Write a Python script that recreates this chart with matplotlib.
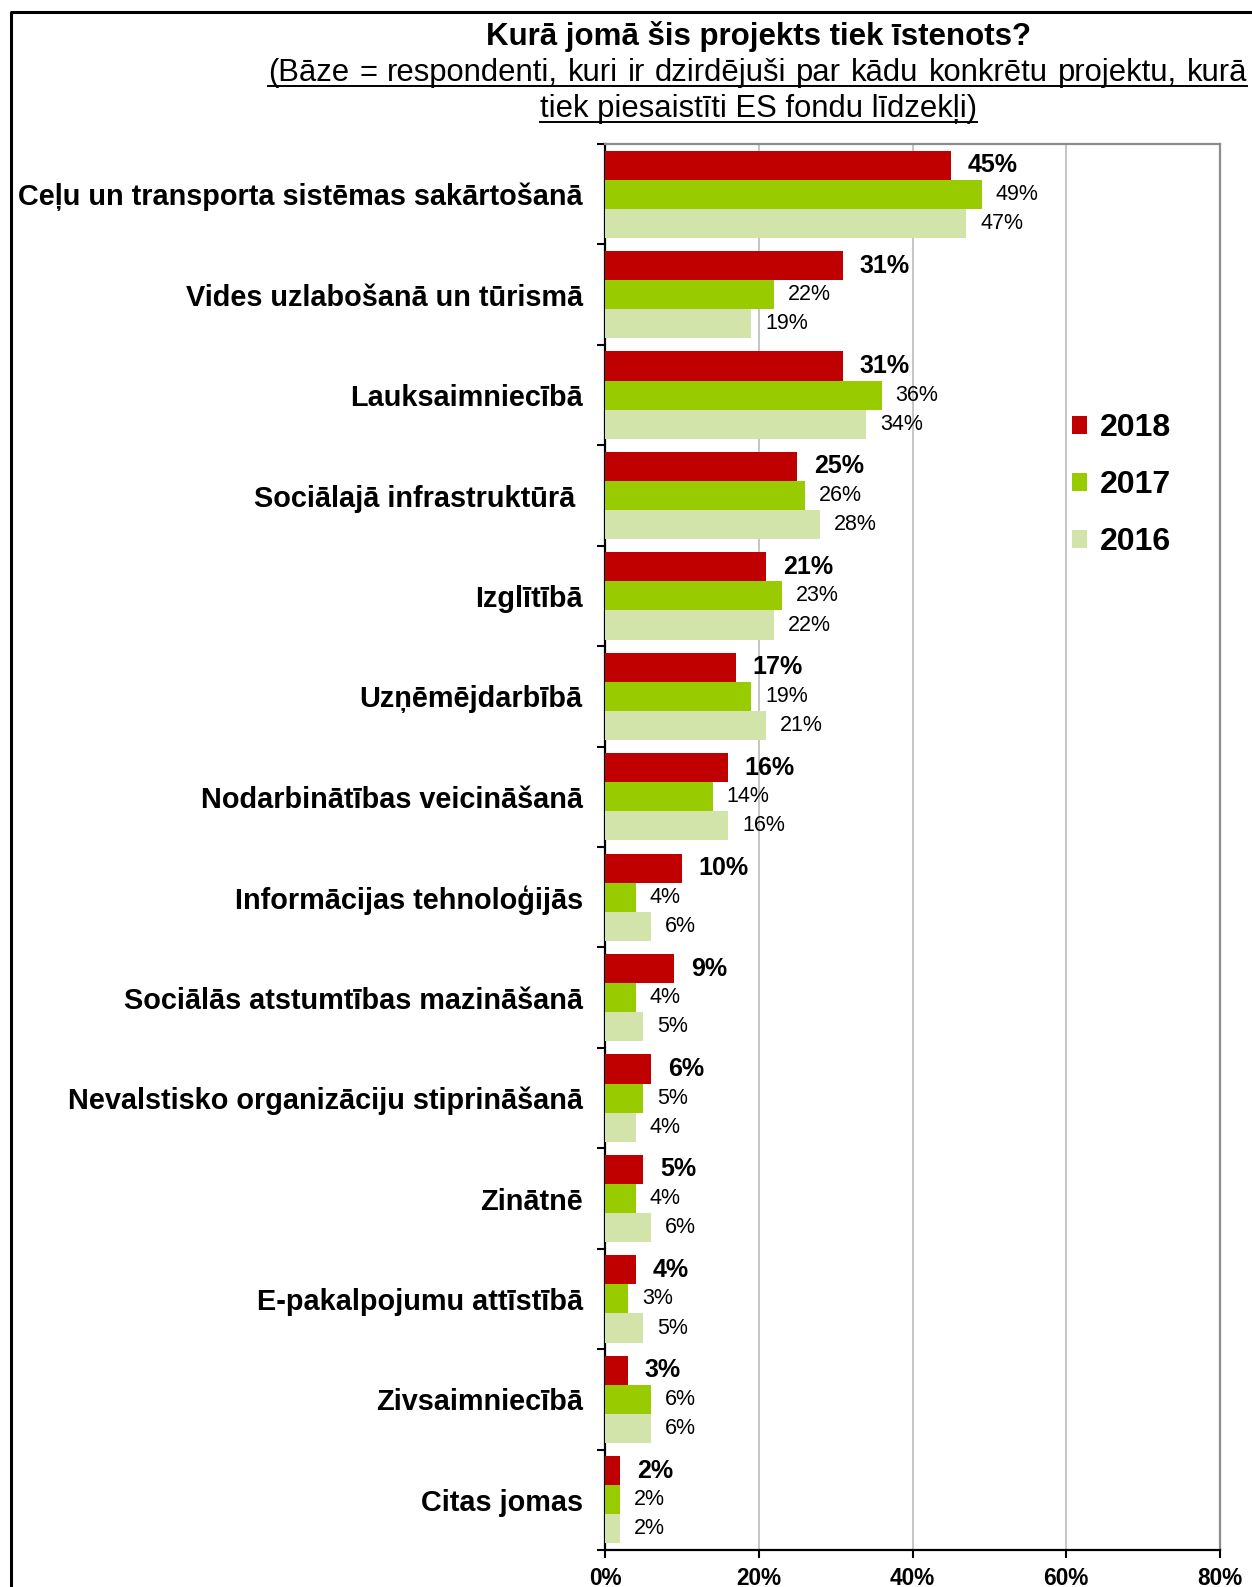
import numpy as np
import matplotlib
matplotlib.use("Agg")
import matplotlib.pyplot as plt
from matplotlib.lines import Line2D
from matplotlib.patches import Patch

plt.rcParams['font.family'] = ['Liberation Sans', 'DejaVu Sans']

title = "Kurā jomā šis projekts tiek īstenots?"
subtitle_lines = [
    "(Bāze = respondenti, kuri ir dzirdējuši par kādu konkrētu projektu, kurā",
    "tiek piesaistīti ES fondu līdzekļi)",
]

categories = [
    "Ceļu un transporta sistēmas sakārtošanā",
    "Vides uzlabošanā un tūrismā",
    "Lauksaimniecībā",
    "Sociālajā infrastruktūrā ",
    "Izglītībā",
    "Uzņēmējdarbībā",
    "Nodarbinātības veicināšanā",
    "Informācijas tehnoloģijās",
    "Sociālās atstumtības mazināšanā",
    "Nevalstisko organizāciju stiprināšanā",
    "Zinātnē",
    "E-pakalpojumu attīstībā",
    "Zivsaimniecībā",
    "Citas jomas",
]
years = ["2018", "2017", "2016"]
values_2018 = [45, 31, 31, 25, 21, 17, 16, 10, 9, 6, 5, 4, 3, 2]
values_2017 = [49, 22, 36, 26, 23, 19, 14, 4, 4, 5, 4, 3, 6, 2]
values_2016 = [47, 19, 34, 28, 22, 21, 16, 6, 5, 4, 6, 5, 6, 2]
x_ticks = [0, 20, 40, 60, 80]
x_tick_labels = ["0%", "20%", "40%", "60%", "80%"]

colors = ["#C00000", "#99CC00", "#D3E4AA"]
series = [values_2018, values_2017, values_2016]

W, H = 1252, 1587
fig = plt.figure(figsize=(W / 100, H / 100), dpi=100)
ax = fig.add_axes([605 / W, 1 - 1550 / H, (1220 - 605) / W, (1550 - 144) / H])

y = np.arange(len(categories))
bh = 0.29
offsets = [-bh, 0, bh]
for vals, col, off, yr in zip(series, colors, offsets, years):
    ax.barh(y + off, vals, height=bh, color=col, edgecolor='none', label=yr, zorder=3)

# value labels: bold for the latest year
for i in range(len(categories)):
    for k, (vals, off) in enumerate(zip(series, offsets)):
        v = vals[i]
        if k == 0:
            ax.annotate(f"{v}%", (v, y[i] + off), xytext=(12, 0), textcoords='offset points',
                        ha='left', va='center', fontsize=18, fontweight='bold', zorder=4)
        else:
            ax.annotate(f"{v}%", (v, y[i] + off), xytext=(10, 0), textcoords='offset points',
                        ha='left', va='center', fontsize=15.5, zorder=4)

ax.set_xlim(0, 80)
ax.set_ylim(len(categories) - 0.5, -0.5)
ax.set_xticks(x_ticks)
ax.set_xticklabels(x_tick_labels, fontsize=16.3, fontweight='bold')
ax.set_yticks(y)
ax.set_yticklabels(categories, fontsize=20.8, fontweight='bold')
ax.tick_params(axis='y', which='major', length=0, pad=16)
ax.set_yticks(np.arange(-0.5, len(categories), 1.0), minor=True)
ax.tick_params(axis='y', which='minor', length=6, width=1.5, direction='out', color='black')
ax.tick_params(axis='x', which='major', length=6, width=1.5, direction='out', pad=6)

ax.grid(axis='x', color='#C0C0C0', linewidth=1.3, zorder=0)
ax.set_axisbelow(True)
for s in ['left', 'bottom']:
    ax.spines[s].set_color('black')
    ax.spines[s].set_linewidth(1.6)
for s in ['top', 'right']:
    ax.spines[s].set_color('#8C8C8C')
    ax.spines[s].set_linewidth(1.6)

handles = [Patch(facecolor=c, edgecolor='none') for c in colors]
leg = fig.legend(handles, years, loc='upper left', bbox_to_anchor=(1072 / W, 1 - 413 / H),
                 frameon=False, fontsize=23, handlelength=0.48, handleheight=0.48,
                 handletextpad=0.4, labelspacing=0.85, borderaxespad=0, borderpad=0)
for t in leg.get_texts():
    t.set_fontweight('bold')

# titles
cx = 758 / W
fig.text(cx, 1 - 37 / H, title, ha='center', va='center', fontsize=22.5, fontweight='bold')

fig.canvas.draw()
renderer = fig.canvas.get_renderer()
inv = fig.transFigure.inverted()


def underline(x0, x1, ybase):
    fig.add_artist(Line2D([x0, x1], [ybase, ybase], color='black', linewidth=1.4,
                          transform=fig.transFigure))


# first subtitle line is justified across the full width
sub_size = 22.3
line1_left, line1_right = 268 / W, 1247 / W
words = subtitle_lines[0].split(" ")
widths = []
for w in words:
    t = fig.text(0, 0, w, fontsize=sub_size)
    bb = t.get_window_extent(renderer).transformed(inv)
    widths.append(bb.width)
    t.remove()
gap = (line1_right - line1_left - sum(widths)) / (len(words) - 1)
xpos = line1_left
y1 = 1 - 73 / H
ymin = None
for w, wd in zip(words, widths):
    t = fig.text(xpos, y1, w, ha='left', va='center', fontsize=sub_size)
    bb = t.get_window_extent(renderer).transformed(inv)
    ymin = bb.y0 if ymin is None else min(ymin, bb.y0)
    xpos += wd + gap
underline(line1_left, line1_right, ymin + 2 / H)

t2 = fig.text(cx, 1 - 109 / H, subtitle_lines[1], ha='center', va='center', fontsize=sub_size)
bb2 = t2.get_window_extent(renderer).transformed(inv)
underline(bb2.x0, bb2.x1, bb2.y0 + 2 / H)

# outer frame (open to the right and bottom)
fig.add_artist(Line2D([10.5 / W, 10.5 / W, 1.01], [-0.01, 1 - 12 / H, 1 - 12 / H],
                      color='black', linewidth=2.2, transform=fig.transFigure))

fig.savefig("out.png", dpi=100)
